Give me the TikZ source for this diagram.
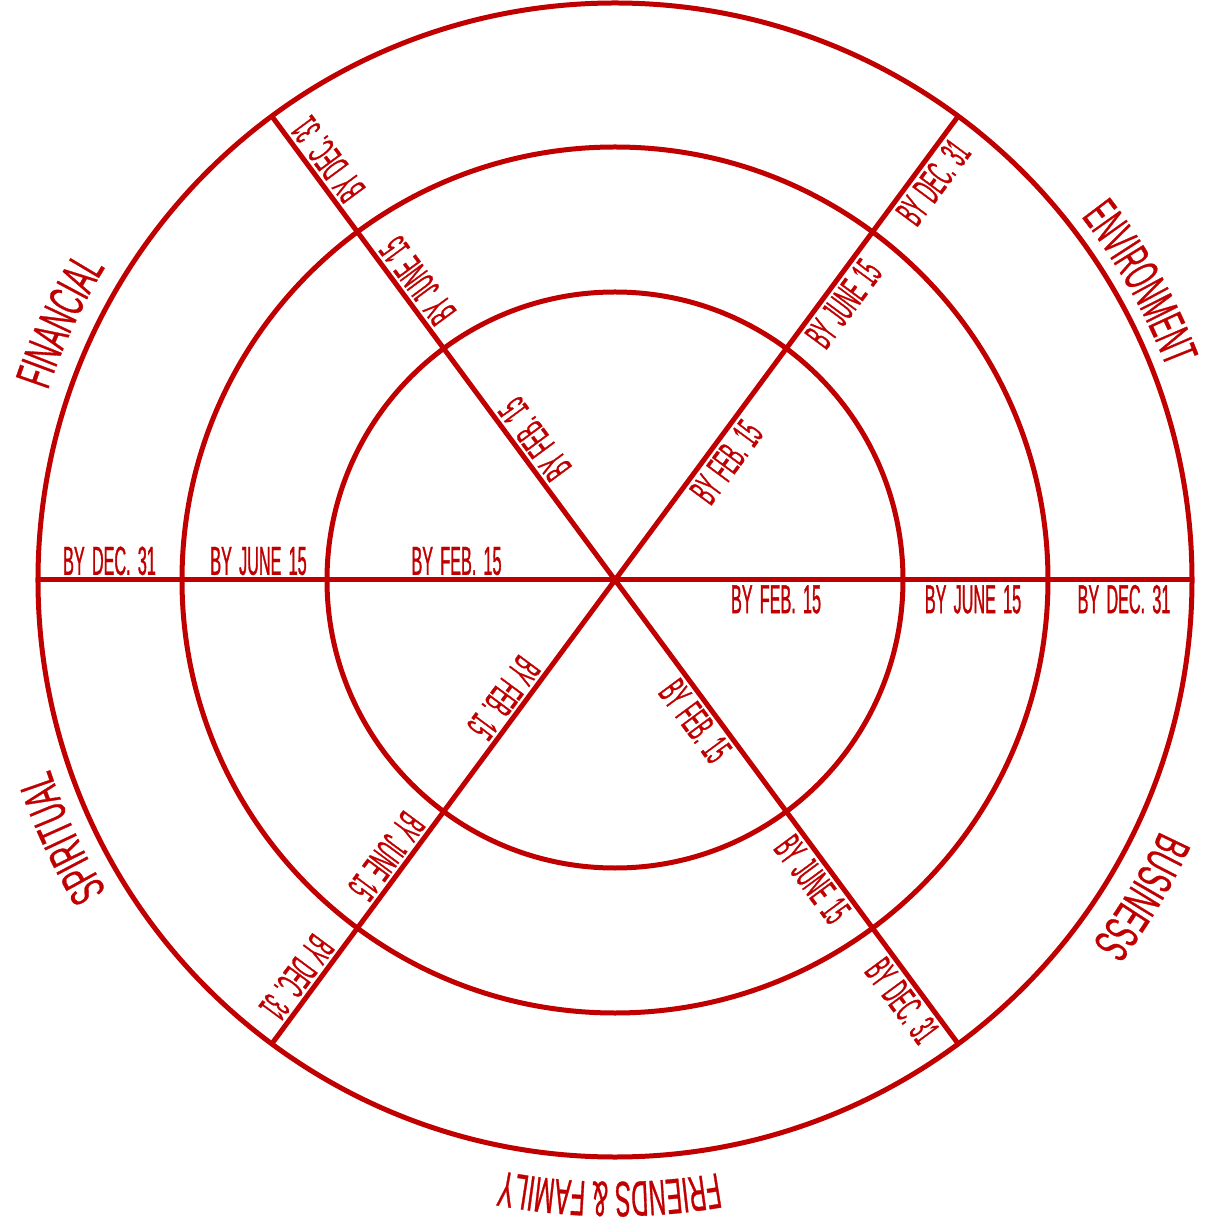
\documentclass[tikz,border=0pt]{standalone}
\usepackage{fontspec}
\usetikzlibrary{decorations.text}
\newfontfamily\labfont[FakeStretch=0.4,FakeBold=0.8,WordSpace=1.6]{Liberation Sans}
\newfontfamily\catfont[FakeStretch=0.52,FakeBold=0.6]{Liberation Sans}
\newfontfamily\catfontn[FakeStretch=0.47,FakeBold=0.6]{Liberation Sans}
\newcommand\catsz{\catfont\fontsize{50pt}{50pt}\selectfont}
\newcommand\catszn{\catfontn\fontsize{50pt}{50pt}\selectfont}
\definecolor{dr}{RGB}{192,0,0}
\begin{document}
\begin{tikzpicture}[x=1pt,y=1pt,
  ring/.style={draw=dr, line width=5pt},
  spoke/.style={draw=dr, line width=5pt},
  lab/.style={font={\labfont\fontsize{40.5pt}{40.5pt}\selectfont}, text=dr, inner sep=0pt, text height=29pt, text depth=0pt},
  cat/.style={decorate, decoration={text along path, text align=center, text color=dr, text={#1}}}
]
\useasboundingbox (-615,-645) rectangle (595,580);
\coordinate (O) at (0,0);
% rings
\draw[ring] (O) circle[radius=288];
\draw[ring] (O) circle[radius=433];
\draw[ring] (O) circle[radius=577];
% spokes
\coordinate (W) at (180:577);
\coordinate (E) at (0:577);
\coordinate (NE) at (53.5:577);
\coordinate (NW) at (126.5:577);
\coordinate (SW) at (233.5:577);
\coordinate (SE) at (306.5:577);
\draw[spoke] (W) -- (E);
\draw[spoke] (O) -- (NE);
\draw[spoke] (O) -- (NW);
\draw[spoke] (O) -- (SW);
\draw[spoke] (O) -- (SE);
% spoke labels
\foreach \a/\nm in {0/e,53.5/ne,126.5/nw,233.5/sw,306.5/se} {
  \node[lab, anchor=north, rotate=\a] (f\nm) at ([shift={(\a-90:4)}]\a:161) {BY FEB. 15};
  \node[lab, anchor=north, rotate=\a] (j\nm) at ([shift={(\a-90:4)}]\a:358) {BY JUNE 15};
  \node[lab, anchor=north, rotate=\a] (d\nm) at ([shift={(\a-90:4)}]\a:509) {BY DEC. 31};
}
\node[lab, anchor=south] (fw) at ([shift={(0,5)}]180:158.5) {BY FEB. 15};
\node[lab, anchor=south] (jw) at ([shift={(0,5)}]180:356.5) {BY JUNE 15};
\node[lab, anchor=south] (dw) at ([shift={(0,5)}]180:505.5) {BY DEC. 31};
% category labels
\path[cat={|\catsz|FINANCIAL}] (195:598) arc[start angle=195, end angle=115, radius=598];
\path[cat={|\catszn|ENVIRONMENT}] (69.5:591) arc[start angle=69.5, end angle=-10.5, radius=591];
\path[cat={|\catsz|BUSINESS}] (9:600) arc[start angle=9, end angle=-71, radius=600];
\path[cat={|\catszn|FRIENDS {\&} FAMILY}] (-50.5:602) arc[start angle=-50.5, end angle=-130.5, radius=602];
\path[cat={|\catsz|SPIRITUAL}] (245:596) arc[start angle=245, end angle=165, radius=596];
\end{tikzpicture}
\end{document}
